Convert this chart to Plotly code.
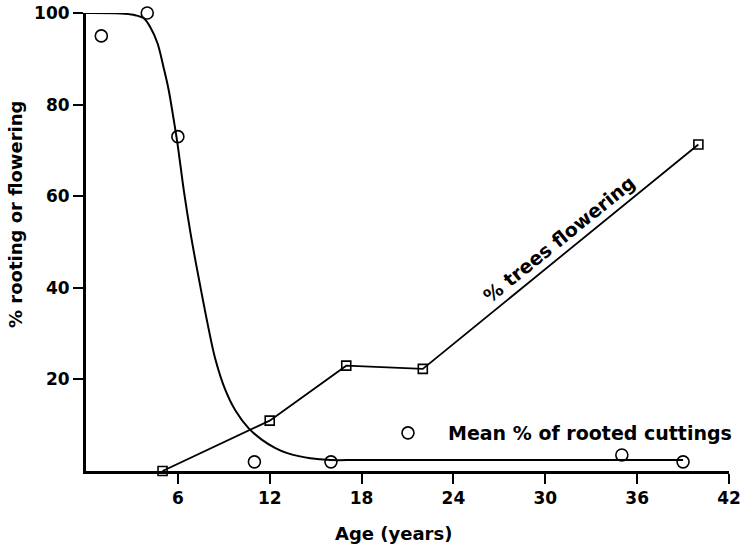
import plotly.graph_objects as go

# Mean % of rooted cuttings (observed)
rooting_age = [1, 4, 6, 11, 16, 35, 39]
rooting_pct = [95, 100, 73, 2, 2, 3.5, 2]

# Fitted rooting curve
curve_age = [0, 2.25, 3.1, 3.75, 4.2, 4.67, 5.06, 5.4, 5.7, 5.97, 6.4, 6.8, 7.2, 7.6,
             8.0, 8.45, 9.1, 9.76, 10.63, 11.5, 12.37, 13.15, 14.65, 15.96, 17.9, 28, 39]
curve_pct = [100, 99.9, 99.6, 98.9, 96.9, 93.4, 88.2, 83.2, 77.3, 71.6, 61.0, 52.5, 45.0, 38.0,
             31.2, 24.4, 17.7, 13.2, 9.3, 6.8, 5.0, 3.9, 2.8, 2.4, 2.4, 2.4, 2.4]

# % trees flowering
flower_age = [5, 12, 17, 22, 40]
flower_pct = [0, 11, 23, 22.3, 71.3]

x_ticks = [6, 12, 18, 24, 30, 36, 42]
y_ticks = [20, 40, 60, 80, 100]

FONT = "DejaVu Sans"

fig = go.Figure()
fig.add_trace(go.Scatter(x=curve_age, y=curve_pct, mode="lines",
                         line=dict(color="black", width=2, shape="spline", smoothing=1.0),
                         showlegend=False, hoverinfo="skip"))
fig.add_trace(go.Scatter(x=flower_age, y=flower_pct, mode="lines+markers",
                         line=dict(color="black", width=1.8),
                         marker=dict(symbol="square-open", size=9, color="black", line=dict(width=1.6)),
                         showlegend=False, name="% trees flowering", cliponaxis=False))
fig.add_trace(go.Scatter(x=rooting_age, y=rooting_pct, mode="markers",
                         marker=dict(symbol="circle-open", size=12, color="black", line=dict(width=1.6)),
                         name="Mean % of rooted cuttings", cliponaxis=False))

fig.update_layout(
    width=745, height=547,
    margin=dict(l=86, r=16, t=13, b=76, autoexpand=False),
    paper_bgcolor="white", plot_bgcolor="white",
    font=dict(family=FONT, color="black", size=17),
    showlegend=True,
    legend=dict(x=(368 - 86) / 643, y=(471 - 433) / 458,
                xanchor="left", yanchor="middle",
                bgcolor="rgba(0,0,0,0)", itemwidth=70,
                font=dict(family=FONT, size=19, color="black", weight="bold")),
    xaxis=dict(range=[0, 42], tickvals=x_ticks, ticktext=[str(v) for v in x_ticks],
               showgrid=False, zeroline=False, showline=True, linecolor="black", linewidth=3,
               ticks="outside", ticklen=10, tickwidth=2, tickcolor="black",
               tickfont=dict(family=FONT, size=17, color="black", weight="bold")),
    yaxis=dict(range=[0, 100], tickvals=y_ticks, ticktext=[str(v) for v in y_ticks],
               showgrid=False, zeroline=False, showline=True, linecolor="black", linewidth=3,
               ticks="outside", ticklen=10, tickwidth=2, tickcolor="black",
               tickfont=dict(family=FONT, size=17, color="black", weight="bold")),
    annotations=[
        dict(text="Age (years)", xref="paper", yref="paper", x=(393 - 86) / 643, y=-(533 - 471) / 458,
             showarrow=False, xanchor="center", yanchor="middle",
             font=dict(family=FONT, size=18, color="black", weight="bold")),
        dict(text="% rooting or flowering", xref="paper", yref="paper", x=-(86 - 15) / 643, y=(471 - 215) / 458,
             showarrow=False, xanchor="center", yanchor="middle", textangle=-90,
             font=dict(family=FONT, size=18, color="black", weight="bold")),
        dict(text="% trees flowering", xref="x", yref="y", x=30.9, y=50.6,
             showarrow=False, xanchor="center", yanchor="middle", textangle=-39,
             font=dict(family=FONT, size=19, color="black", weight="bold")),
    ],
)

fig.write_html("out.html")
